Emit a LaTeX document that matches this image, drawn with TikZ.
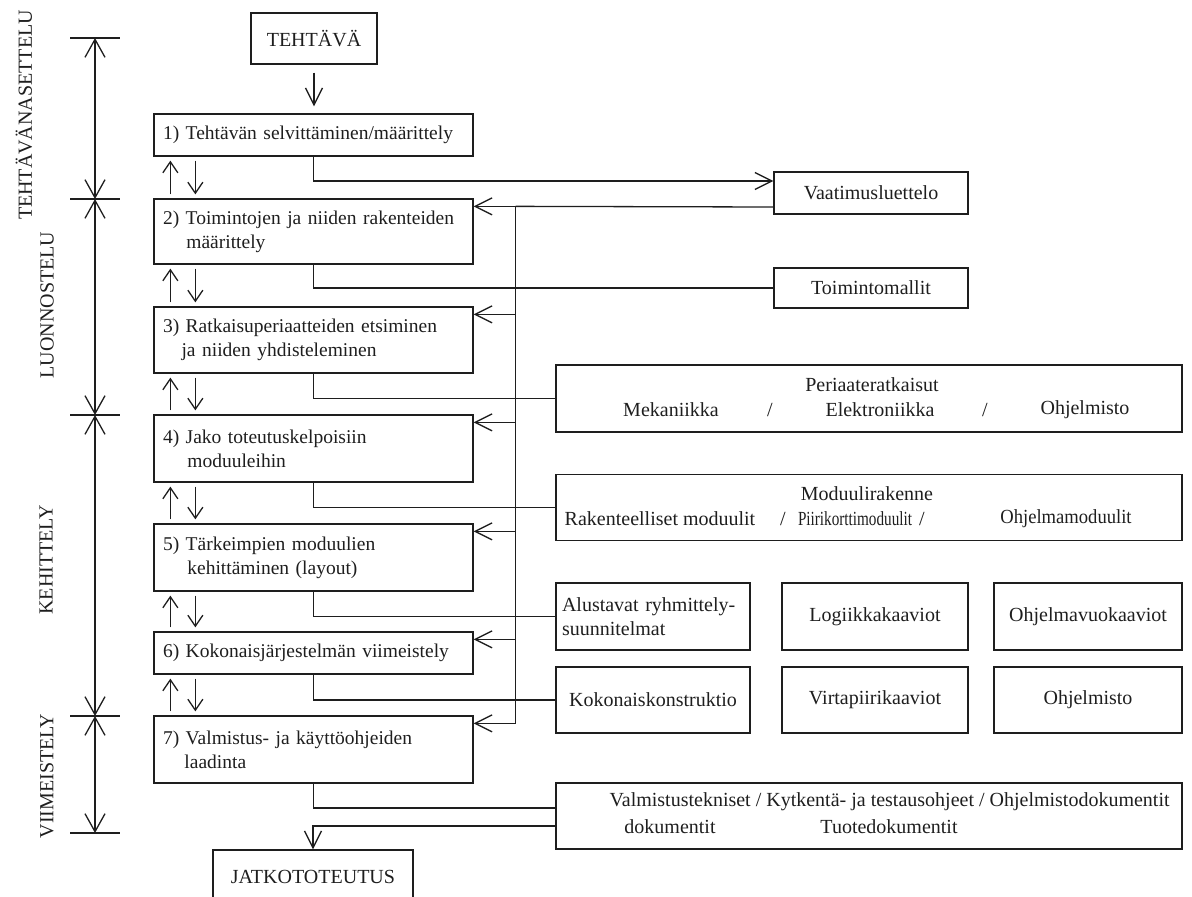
\documentclass[tikz,border=0pt]{standalone}
\usepackage{fontspec}
\setmainfont{Liberation Serif}
\usetikzlibrary{arrows.meta,calc}
\definecolor{ink}{HTML}{1E1E1E}
\begin{document}
\begin{tikzpicture}[x=1pt,y=-1pt,line width=1.3pt,color=ink,
  every node/.style={font=\fontsize{20}{24}\selectfont,text=ink},
  stage/.style={draw,minimum width=319pt,text width=301pt,inner xsep=9pt,inner ysep=0pt,align=left,font=\fontsize{19.5}{24}\selectfont},
  rbox/.style={draw,inner sep=0pt},
  txt/.style={inner sep=0pt},
  arrbig/.style={-{Straight Barb[length=17pt,width=17pt]}},
  arrsmall/.style={-{Straight Barb[length=11pt,width=15pt]},shorten <=4pt,shorten >=4pt},
  arrdim/.style={{Straight Barb[length=18pt,width=20pt]}-{Straight Barb[length=18pt,width=20pt]}},
  label/.style={rotate=90,inner sep=0pt}]
\useasboundingbox (0,0) rectangle (1192,897);

% dimension line at left
\coordinate (d0) at (95,38);
\coordinate (d1) at (95,199);
\coordinate (d2) at (95,415);
\coordinate (d3) at (95,716);
\coordinate (d4) at (95,833);
\foreach \i in {0,...,4}{\draw ([xshift=-25pt]d\i) -- ([xshift=25pt]d\i);}
\draw[arrdim] (d0) -- (d1);
\draw[arrdim] (d1) -- (d2);
\draw[arrdim] (d2) -- (d3);
\draw[arrdim] (d3) -- (d4);
\node[label] (l1) at (24,115) {TEHTÄVÄNASETTELU};
\node[label] (l2) at (47,305) {LUONNOSTELU};
\node[label] (l3) at (46,560) {KEHITTELY};
\node[label] (l4) at (47,776) {VIIMEISTELY};

% main column
\node[rbox,minimum width=126pt,minimum height=51pt] (teh) at (314,38.5) {TEHTÄVÄ};
\node[stage,minimum height=42pt] (s1) at (313.5,135) {1) Tehtävän selvittäminen/määrittely};
\node[stage,minimum height=65pt] (s2) at (313.5,231.5) {2) Toimintojen ja niiden rakenteiden\\\hspace*{1.2em}määrittely};
\node[stage,minimum height=66pt] (s3) at (313.5,340) {3) Ratkaisuperiaatteiden etsiminen\\\hspace*{0.95em}ja niiden yhdisteleminen};
\node[stage,minimum height=67pt] (s4) at (313.5,448.5) {4) Jako toteutuskelpoisiin\\\hspace*{1.25em}moduuleihin};
\node[stage,minimum height=67pt] (s5) at (313.5,557.5) {5) Tärkeimpien moduulien\\\hspace*{1.25em}kehittäminen (layout)};
\node[stage,minimum height=42pt] (s6) at (313.5,653) {6) Kokonaisjärjestelmän viimeistely};
\node[stage,minimum height=67pt] (s7) at (313.5,749.5) {7) Valmistus- ja käyttöohjeiden\\\hspace*{1.1em}laadinta};
\node[rbox,minimum width=200pt,minimum height=54pt] (jat) at (313,877) {JATKOTOTEUTUS};

% right boxes
\node[rbox,minimum width=194pt,minimum height=42pt] (vaat) at (871,193) {Vaatimusluettelo};
\node[rbox,minimum width=194pt,minimum height=40pt] (toim) at (871,288) {Toimintomallit};
\node[rbox,minimum width=626pt,minimum height=67pt] (per) at (869,398.5) {};
\node[txt] (per0) at (872,385) {Periaateratkaisut};
\node[txt] (per1) at (671,410) {Mekaniikka};
\node[txt] (per2) at (770,410) {/};
\node[txt] (per3) at (880,410) {Elektroniikka};
\node[txt] (per4) at (985,410) {/};
\node[txt] (per5) at (1085,410) {Ohjelmisto};
\node[rbox,minimum width=626pt,minimum height=66pt] (mod) at (869,507.5) {};
\node[txt] (mod0) at (867,494) {Moduulirakenne};
\node[txt] (mod1) at (660,519) {Rakenteelliset moduulit};
\node[txt] (mod2) at (783,519) {/};
\node[txt] (mod3) at (855,519) {\scalebox{0.76}[1]{Piirikorttimoduulit}};
\node[txt] (mod4) at (922,519) {/};
\node[txt] (mod5) at (1066,519) {\scalebox{0.93}[1]{Ohjelmamoduulit}};
\node[rbox,minimum width=194pt,minimum height=67pt,text width=182pt,inner xsep=6pt,align=left] (alu) at (653,616.5) {Alustavat ryhmittely-\\suunnitelmat};
\node[rbox,minimum width=186pt,minimum height=67pt] (log) at (875,616.5) {Logiikkakaaviot};
\node[rbox,minimum width=188pt,minimum height=67pt] (ohv) at (1088,616.5) {Ohjelmavuokaaviot};
\node[rbox,minimum width=194pt,minimum height=66pt] (kok) at (653,700) {Kokonaiskonstruktio};
\node[rbox,minimum width=186pt,minimum height=66pt] (vir) at (875,700) {Virtapiirikaaviot};
\node[rbox,minimum width=188pt,minimum height=66pt] (ohj) at (1088,700) {Ohjelmisto};
\node[rbox,minimum width=626pt,minimum height=66pt] (val) at (869,816) {};
\node[txt,anchor=west] (val0) at (609,802) {Valmistustekniset / Kytkentä- ja testausohjeet / Ohjelmistodokumentit};
\node[txt] (val1) at (670,827) {dokumentit};
\node[txt] (val2) at (889,827) {Tuotedokumentit};

% main flow arrows
\draw[arrbig,shorten <=8pt,shorten >=7pt] (teh.south) -- (teh.south |- s1.north);
\foreach \a/\b in {s1/s2,s2/s3,s3/s4,s4/s5,s5/s6,s6/s7}{
  \draw[arrsmall] ([xshift=17pt]\b.north west) -- ([xshift=17pt]\a.south west);
  \draw[arrsmall] ([xshift=42pt]\a.south west) -- ([xshift=42pt]\b.north west);
}

% outputs
\draw[arrbig] (s1.south) |- ([yshift=12pt]vaat.west);
\draw (s2.south) |- (toim.west);
\draw (s3.south) |- (per.west);
\draw (s4.south) |- (mod.west);
\draw (s5.south) |- (alu.west);
\draw (s6.south) |- (kok.west);
\draw (s7.south) |- ([yshift=8pt]val.west);
\draw[arrbig] ([yshift=-10pt]val.west) -| (jat.north);

% feedback
\foreach \i in {2,...,7}{\coordinate (b\i) at ([xshift=42pt,yshift=-8pt]s\i.north east);}
\draw ([yshift=-14pt]vaat.west) -- (b2);
\draw (b2) -- (b7);
\foreach \i in {2,...,7}{\draw[arrbig] (b\i) -- (b\i -| s\i.east);}
\end{tikzpicture}
\end{document}
